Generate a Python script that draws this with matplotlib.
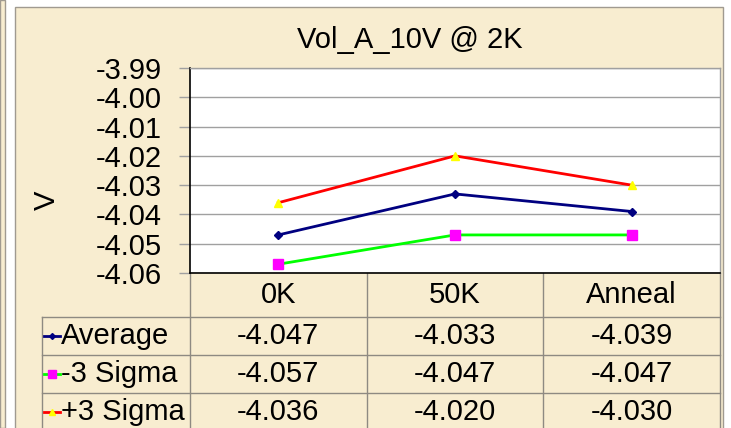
import numpy as np
import matplotlib.pyplot as plt
from matplotlib.patches import Rectangle

plt.rcParams['font.family'] = ['Liberation Sans', 'DejaVu Sans']

# data
categories = ['0K', '50K', 'Anneal']
series_names = ['Average', '-3 Sigma', '+3 Sigma']
average = [-4.047, -4.033, -4.039]
minus3 = [-4.057, -4.047, -4.047]
plus3 = [-4.036, -4.020, -4.030]
yticks = [-4.06, -4.05, -4.04, -4.03, -4.02, -4.01, -4.00, -3.99]

series = [average, minus3, plus3]
line_colors = ['#000080', '#00FF00', '#FF0000']
markers = ['D', 's', '^']
marker_colors = ['#000080', '#FF00FF', '#FFFF00']
marker_sizes = [4, 7, 5.5]

W, H = 731, 428
paper = '#F8EDD0'
edge = '#A09A90'
fs = 21

fig = plt.figure(figsize=(W / 100, H / 100), dpi=100, facecolor='white')

def fx(px):
    return px / W

def fy(py):
    return 1 - py / H

# parchment panels (behind everything)
fig.patches.append(Rectangle((0, 0), fx(5), 1, transform=fig.transFigure,
                             facecolor=paper, edgecolor=edge, lw=1, zorder=-10))
fig.patches.append(Rectangle((fx(15), -0.01), fx(723 - 15), fy(7) + 0.01,
                             transform=fig.transFigure, facecolor=paper,
                             edgecolor=edge, lw=1, zorder=-10))

# plot area
L, R, T, B = 190, 720, 68, 273
ax = fig.add_axes([fx(L), fy(B), fx(R - L), (B - T) / H])
ax.set_facecolor('white')
x = np.arange(len(categories))
for vals, lc, m, mc, ms in zip(series, line_colors, markers, marker_colors, marker_sizes):
    ax.plot(x, vals, color=lc, lw=2, marker=m, markersize=ms,
            markerfacecolor=mc, markeredgecolor=mc, zorder=3)
ax.set_xlim(-0.5, len(categories) - 0.5)
ax.set_ylim(-4.06, -3.99)
ax.set_yticks(yticks)
ax.set_yticklabels([f'{v:.2f}' for v in yticks], fontsize=fs)
ax.set_xticks([])
ax.yaxis.grid(True, color='#A0A0A0', lw=1)
ax.set_axisbelow(True)
ax.tick_params(axis='y', direction='out', length=8, width=1, color='#A0A0A0', pad=12)
for s in ['left', 'bottom']:
    ax.spines[s].set_color('black')
    ax.spines[s].set_linewidth(1.2)
for s in ['top', 'right']:
    ax.spines[s].set_color('#A0A0A0')
    ax.spines[s].set_linewidth(1)

fig.text(fx(47), fy(200), 'V', rotation=90, fontsize=fs, ha='center', va='center')
fig.text(fx(410), fy(40), 'Vol_A_10V @ 2K', fontsize=fs, ha='center', va='center')

# data table below the plot
tab = fig.add_axes([0, 0, 1, 1], zorder=-1)
tab.set_xlim(0, W)
tab.set_ylim(H, 0)
tab.axis('off')
tab.patch.set_alpha(0)

grid_c = '#8E8A82'
col_w = (R - L) / len(categories)
leg_left = 42
row_lines = [317, 355, 393]
row_centers = [336, 374, 412]

for i in range(len(categories) + 1):
    xv = L + i * col_w
    tab.plot([xv, xv], [B, H], color=grid_c, lw=1)
tab.plot([leg_left, leg_left], [row_lines[0], H], color=grid_c, lw=1)
for yl in row_lines:
    tab.plot([leg_left, R], [yl, yl], color=grid_c, lw=1)

for i, c in enumerate(categories):
    tab.text(L + (i + 0.5) * col_w, (B + row_lines[0]) / 2, c, fontsize=fs,
             ha='center', va='center')

for r, (name, vals, lc, m, mc, ms) in enumerate(zip(series_names, series, line_colors,
                                                    markers, marker_colors, marker_sizes)):
    yc = row_centers[r]
    tab.plot([44, 60], [yc, yc], color=lc, lw=2)
    tab.plot([52], [yc], marker=m, markersize=ms - 1, color=mc)
    tab.text(61, yc, name, fontsize=fs, ha='left', va='center')
    for i, v in enumerate(vals):
        tab.text(L + (i + 0.5) * col_w, yc, f'{v:.3f}', fontsize=fs,
                 ha='center', va='center')

fig.savefig('out.png', dpi=100, facecolor=fig.get_facecolor())
